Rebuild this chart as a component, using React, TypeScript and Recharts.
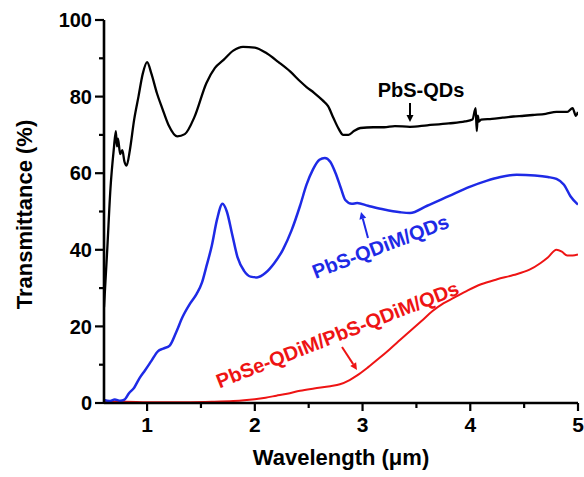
import React from "react";
import { LineChart, Line, XAxis, YAxis, Label } from "recharts";

// ---- Data ----
const xTicks = [1, 1.5, 2, 2.5, 3, 3.5, 4, 4.5, 5];
const xMajor = [1, 2, 3, 4, 5];
const yTicks = [0, 10, 20, 30, 40, 50, 60, 70, 80, 90, 100];
const yMajor = [0, 20, 40, 60, 80, 100];

const pbsX = [0.6, 0.63, 0.66, 0.69, 0.71, 0.72, 0.73, 0.75, 0.77, 0.79, 0.81, 0.84, 0.88, 0.92, 0.96, 1.0, 1.04, 1.09, 1.14, 1.2, 1.28, 1.35, 1.44, 1.55, 1.63, 1.71, 1.8, 1.89, 2.0, 2.11, 2.22, 2.33, 2.42, 2.48, 2.55, 2.63, 2.68, 2.73, 2.78, 2.82, 2.87, 2.92, 2.98, 3.1, 3.2, 3.3, 3.44, 3.6, 3.8, 3.95, 4.02, 4.05, 4.06, 4.07, 4.08, 4.1, 4.2, 4.3, 4.4, 4.5, 4.58, 4.7, 4.8, 4.9, 4.95, 4.98, 5.0];
const pbsY = [25, 40, 56, 66, 71, 67, 69, 65, 66, 63, 62, 66, 74, 80, 86, 89, 86, 81, 77, 72.5, 69.6, 70.2, 74.7, 83.5, 87.5, 89.6, 92, 93, 92.8, 91.3, 89, 86.5, 84, 82.5, 81, 79, 77.5, 74.4, 71.5, 70, 70, 71, 71.8, 72, 72, 72.3, 72.1, 72.5, 73, 73.5, 74, 77, 71, 75, 73.5, 74, 74.2, 74.5, 74.8, 75, 75.2, 75.5, 76, 76, 77, 75, 76];

const qdimX = [0.6, 0.65, 0.7, 0.75, 0.79, 0.83, 0.88, 0.93, 0.98, 1.04, 1.1, 1.15, 1.21, 1.27, 1.33, 1.4, 1.46, 1.51, 1.55, 1.6, 1.65, 1.7, 1.74, 1.79, 1.84, 1.9, 1.96, 2.02, 2.1, 2.18, 2.26, 2.34, 2.42, 2.48, 2.54, 2.6, 2.65, 2.7, 2.75, 2.8, 2.84, 2.9, 2.95, 3.05, 3.2, 3.35, 3.44, 3.6, 3.8, 4.0, 4.15, 4.28, 4.43, 4.6, 4.72, 4.8, 4.87, 4.93, 5.0];
const qdimY = [0.8, 0.5, 0.9, 0.6, 0.9, 2.5, 4, 6.5, 8.5, 11, 13.5, 14.2, 15, 18.5, 22.5, 26, 28.5, 31.5, 35.6, 41, 48, 52, 50, 44, 38, 34.5, 33, 32.8, 34, 36.5, 40, 45, 51.5, 57, 61, 63.5, 64, 63, 60, 56, 53, 52, 52.2, 51.5, 50.5, 49.8, 49.6, 51.5, 54, 56.5, 58, 59, 59.6, 59.4, 59, 58.5, 57, 54, 51.8];

const pbseX = [0.6, 0.8, 1.0, 1.2, 1.4, 1.6, 1.8, 1.9, 2.0, 2.1, 2.2, 2.3, 2.42, 2.55, 2.7, 2.79, 2.88, 2.95, 3.05, 3.15, 3.25, 3.35, 3.45, 3.55, 3.65, 3.75, 3.85, 3.97, 4.1, 4.25, 4.4, 4.55, 4.65, 4.72, 4.8, 4.85, 4.9, 4.95, 5.0];
const pbseY = [0.3, 0.3, 0.2, 0.2, 0.2, 0.3, 0.5, 0.7, 1, 1.4, 1.9, 2.4, 3.2, 3.8, 4.4, 4.9, 6, 7.2, 9.3, 11.6, 14, 16.5, 19, 21.5, 24, 26, 27.5, 29.3, 31, 32.3, 33.4, 34.8, 36.5, 38, 40, 39.5, 38.5, 38.5, 38.8];

const zip = (xs: number[], ys: number[]) => xs.map((x, i) => ({ x, y: ys[i] }));
const pbsData = zip(pbsX, pbsY);
const qdimData = zip(qdimX, qdimY);
const pbseData = zip(pbseX, pbseY);

const FONT = "Arial, 'Liberation Sans', Helvetica, sans-serif";
const BLACK = "#000000";
const BLUE = "#1e2ae6";
const RED = "#ee1414";

const X_TICK_SIZE = 8;
const X_TICK_MARGIN = 6;
const Y_TICK_SIZE = 8;
const Y_TICK_MARGIN = 4;

const XTick = (props: any) => {
  const { x, y, payload } = props;
  const axisY = y - X_TICK_SIZE - X_TICK_MARGIN;
  const major = xMajor.includes(payload.value);
  return (
    <g>
      <line x1={x} x2={x} y1={axisY} y2={axisY + (major ? 8 : 5)} stroke={BLACK} strokeWidth={2.2} />
      {major && (
        <text x={x} y={y} dy="0.71em" textAnchor="middle" fontFamily={FONT} fontWeight="bold" fontSize={21} fill={BLACK}>
          {payload.value}
        </text>
      )}
    </g>
  );
};

const YTick = (props: any) => {
  const { x, y, payload } = props;
  const axisX = x + Y_TICK_SIZE + Y_TICK_MARGIN;
  const major = yMajor.includes(payload.value);
  return (
    <g>
      <line x1={axisX - (major ? 9 : 5)} x2={axisX} y1={y} y2={y} stroke={BLACK} strokeWidth={2.2} />
      {major && (
        <text x={x} y={y} dy="0.36em" textAnchor="end" fontFamily={FONT} fontWeight="bold" fontSize={20} fill={BLACK}>
          {payload.value}
        </text>
      )}
    </g>
  );
};

const axisLine = { stroke: BLACK, strokeWidth: 2.6 };

const Arrow = ({ x1, y1, x2, y2, color }: any) => {
  const ang = Math.atan2(y2 - y1, x2 - x1);
  const L = 7;
  const W = 3.5;
  const bx = x2 - L * Math.cos(ang);
  const by = y2 - L * Math.sin(ang);
  const px = -Math.sin(ang) * W;
  const py = Math.cos(ang) * W;
  return (
    <g>
      <line x1={x1} y1={y1} x2={bx} y2={by} stroke={color} strokeWidth={2} />
      <polygon points={`${x2},${y2} ${bx + px},${by + py} ${bx - px},${by - py}`} fill={color} />
    </g>
  );
};

export default function App() {
  return (
    <div style={{ position: "absolute", left: 0, top: 0, width: 584, height: 477, background: "#fff" }}>
      <LineChart width={584} height={477} margin={{ top: 20, right: 6, bottom: 0, left: 0 }}>
        <XAxis
          xAxisId="b"
          type="number"
          dataKey="x"
          domain={[0.6, 5]}
          allowDataOverflow
          ticks={xTicks}
          interval={0}
          tick={<XTick />}
          tickLine={false}
          tickSize={X_TICK_SIZE}
          tickMargin={X_TICK_MARGIN}
          height={74}
          axisLine={axisLine}
        >
          <Label
            value="Wavelength (μm)"
            position="insideBottom"
            offset={12}
            style={{ fontFamily: FONT, fontWeight: "bold", fontSize: 22, fill: BLACK }}
          />
        </XAxis>
        <XAxis
          xAxisId="t"
          orientation="top"
          type="number"
          dataKey="x"
          domain={[0.6, 5]}
          allowDataOverflow
          height={0}
          tick={false}
          tickLine={false}
          axisLine={axisLine}
        />
        <YAxis
          yAxisId="l"
          type="number"
          domain={[0, 100]}
          allowDataOverflow
          ticks={yTicks}
          interval={0}
          tick={<YTick />}
          tickLine={false}
          tickSize={Y_TICK_SIZE}
          tickMargin={Y_TICK_MARGIN}
          width={104}
          axisLine={axisLine}
        >
          <Label
            value="Transmittance (%)"
            angle={-90}
            position="insideLeft"
            offset={24}
            dy={3}
            style={{ fontFamily: FONT, fontWeight: "bold", fontSize: 22, fill: BLACK, textAnchor: "middle" }}
          />
        </YAxis>
        <YAxis
          yAxisId="r"
          orientation="right"
          type="number"
          domain={[0, 100]}
          width={0}
          tick={false}
          tickLine={false}
          axisLine={axisLine}
        />
        <Line xAxisId="b" yAxisId="l" data={pbseData} dataKey="y" type="monotone" stroke={RED} strokeWidth={2} dot={false} isAnimationActive={false} />
        <Line xAxisId="b" yAxisId="l" data={qdimData} dataKey="y" type="monotone" stroke={BLUE} strokeWidth={2.5} dot={false} isAnimationActive={false} />
        <Line xAxisId="b" yAxisId="l" data={pbsData} dataKey="y" type="monotone" stroke={BLACK} strokeWidth={2.3} dot={false} isAnimationActive={false} />
      </LineChart>
      <svg width={584} height={477} style={{ position: "absolute", left: 0, top: 0, pointerEvents: "none" }}>
        <text x={421} y={97} textAnchor="middle" fontFamily={FONT} fontWeight="bold" fontSize={20} fill={BLACK}>
          PbS-QDs
        </text>
        <Arrow x1={410} y1={103} x2={410} y2={122} color={BLACK} />
        <text x={383} y={253} textAnchor="middle" fontFamily={FONT} fontWeight="bold" fontSize={20} fill={BLUE} transform="rotate(-21 383 253)">
          PbS-QDiM/QDs
        </text>
        <Arrow x1={368} y1={238} x2={361} y2={212} color={BLUE} />
        <text x={340} y={341} textAnchor="middle" fontFamily={FONT} fontWeight="bold" fontSize={20} fill={RED} transform="rotate(-21.5 340 341)">
          PbSe-QDiM/PbS-QDiM/QDs
        </text>
        <Arrow x1={342} y1={347} x2={357} y2={370} color={RED} />
      </svg>
    </div>
  );
}
